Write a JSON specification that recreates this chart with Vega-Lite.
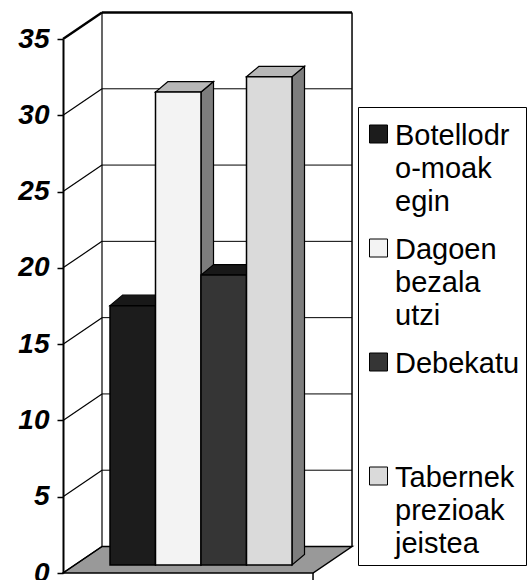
{
  "$schema": "https://vega.github.io/schema/vega-lite/v6.json",
  "width": 290,
  "height": 566,
  "autosize": "none",
  "padding": {"left": 63, "top": 12, "right": 177, "bottom": 2},
  "background": "white",
  "config": {
    "view": {"stroke": null},
    "axisY": {
      "labelFont": "Liberation Sans",
      "labelFontSize": 28,
      "labelFontWeight": "bold",
      "labelFontStyle": "italic",
      "labelColor": "black",
      "labelPadding": 8,
      "tickSize": 6,
      "tickColor": "black",
      "tickWidth": 1.5,
      "domainColor": "black",
      "domainWidth": 2,
      "grid": false
    }
  },
  "datasets": {
    "bars": [
      {"cat": "Botellodro-moak egin", "v": 17},
      {"cat": "Dagoen bezala utzi", "v": 31},
      {"cat": "Debekatu", "v": 19},
      {"cat": "Tabernek prezioak jeistea", "v": 32}
    ],
    "ticks": [{"t": 0}, {"t": 5}, {"t": 10}, {"t": 15}, {"t": 20}, {"t": 25}, {"t": 30}, {"t": 35}],
    "depth": [{"d": 0}, {"d": 1}],
    "one": [{"o": 0}]
  },
  "layer": [
    {
      "data": {"name": "depth"},
      "transform": [
        {"calculate": "datum.d * 1.737", "as": "fy"},
        {"calculate": "-1.033 + datum.d * 0.857", "as": "fx"},
        {"calculate": "4.462 + datum.d * 0.857", "as": "fx2"}
      ],
      "mark": {"type": "area", "orient": "horizontal", "fill": "#999999", "stroke": "black", "strokeWidth": 1.5},
      "encoding": {
        "y": {"field": "fy", "type": "quantitative", "title": null, "axis": {"values": [0, 5, 10, 15, 20, 25, 30, 35], "title": null}, "scale": {"domain": [0, 35], "range": [561, 27], "nice": false, "zero": false}},
        "x": {"field": "fx", "type": "quantitative", "axis": null, "stack": null, "scale": {"domain": [0, 4], "range": [47, 229], "nice": false, "zero": false}},
        "x2": {"field": "fx2"}
      }
    },
    {
      "data": {"name": "ticks"},
      "transform": [{"filter": "datum.t > 0"}],
      "mark": {"type": "rule", "color": "black", "xOffset": 39, "x2Offset": 39, "yOffset": -26.5},
      "encoding": {
        "y": {"field": "t", "type": "quantitative", "title": null, "axis": {"values": [0, 5, 10, 15, 20, 25, 30, 35], "title": null}},
        "x": {"datum": -1.033, "type": "quantitative", "axis": null},
        "x2": {"datum": 4.462},
        "strokeWidth": {"condition": {"test": "datum.t == 35", "value": 2.5}, "value": 1}
      }
    },
    {
      "data": {"name": "ticks"},
      "mark": {"type": "rule", "color": "black", "x2Offset": 39, "y2Offset": -26.5},
      "encoding": {
        "y": {"field": "t", "type": "quantitative", "title": null, "axis": {"values": [0, 5, 10, 15, 20, 25, 30, 35], "title": null}},
        "y2": {"field": "t"},
        "x": {"datum": -1.033, "type": "quantitative", "axis": null},
        "x2": {"datum": -1.033},
        "strokeWidth": {"condition": {"test": "datum.t == 35", "value": 2.5}, "value": 1.2}
      }
    },
    {
      "data": {"name": "one"},
      "mark": {"type": "rule", "color": "black", "strokeWidth": 1.2, "xOffset": 39, "yOffset": -26.5, "y2Offset": -26.5},
      "encoding": {
        "x": {"datum": -1.033, "type": "quantitative", "axis": null},
        "y": {"datum": 0, "type": "quantitative", "title": null, "axis": {"values": [0, 5, 10, 15, 20, 25, 30, 35], "title": null}},
        "y2": {"datum": 35}
      }
    },
    {
      "data": {"name": "one"},
      "mark": {"type": "rule", "color": "black", "strokeWidth": 1.5, "xOffset": 39, "yOffset": -26.5, "y2Offset": -26.5},
      "encoding": {
        "x": {"datum": 4.462, "type": "quantitative", "axis": null},
        "y": {"datum": 0, "type": "quantitative", "title": null, "axis": {"values": [0, 5, 10, 15, 20, 25, 30, 35], "title": null}},
        "y2": {"datum": 35}
      }
    },
    {
      "data": {"name": "one"},
      "mark": {"type": "rule", "color": "black", "strokeWidth": 1.5, "y2Offset": 7},
      "encoding": {
        "x": {"datum": 4.462, "type": "quantitative", "axis": null},
        "y": {"datum": 0, "type": "quantitative", "title": null, "axis": {"values": [0, 5, 10, 15, 20, 25, 30, 35], "title": null}},
        "y2": {"datum": 0}
      }
    },
    {
      "data": {"name": "bars"},
      "transform": [
        {"window": [{"op": "row_number", "as": "rn"}]},
        {"calculate": "[0, 1]", "as": "d"},
        {"flatten": ["d"]},
        {"calculate": "datum.rn + datum.d * 0.275", "as": "sx"},
        {"calculate": "datum.d * 0.688", "as": "sy"},
        {"calculate": "datum.v + datum.d * 0.688", "as": "sy2"}
      ],
      "mark": {"type": "area", "orient": "vertical", "fill": "#7d7d7d", "stroke": "black", "strokeWidth": 1.2, "yOffset": -8, "y2Offset": -8},
      "encoding": {
        "x": {"field": "sx", "type": "quantitative", "axis": null},
        "y": {"field": "sy2", "type": "quantitative", "stack": null, "title": null, "axis": {"values": [0, 5, 10, 15, 20, 25, 30, 35], "title": null}},
        "y2": {"field": "sy"},
        "detail": {"field": "cat", "type": "nominal"}
      }
    },
    {
      "data": {"name": "bars"},
      "transform": [
        {"window": [{"op": "row_number", "as": "rn"}]},
        {"calculate": "[0, 1]", "as": "d"},
        {"flatten": ["d"]},
        {"calculate": "datum.rn - 1 + datum.d * 0.275", "as": "tx"},
        {"calculate": "datum.rn + datum.d * 0.275", "as": "tx2"},
        {"calculate": "datum.v + datum.d * 0.688", "as": "ty"}
      ],
      "mark": {"type": "area", "orient": "horizontal", "stroke": "black", "strokeWidth": 1.2, "yOffset": -8},
      "encoding": {
        "y": {"field": "ty", "type": "quantitative", "title": null, "axis": {"values": [0, 5, 10, 15, 20, 25, 30, 35], "title": null}},
        "x": {"field": "tx", "type": "quantitative", "stack": null, "axis": null},
        "x2": {"field": "tx2"},
        "detail": {"field": "cat", "type": "nominal"},
        "fill": {"condition": {"test": "datum.cat == 'Dagoen bezala utzi' || datum.cat == 'Tabernek prezioak jeistea'", "value": "#b7b7b7"}, "value": "#181818"}
      }
    },
    {
      "data": {"name": "bars"},
      "transform": [
        {"window": [{"op": "row_number", "as": "rn"}]},
        {"calculate": "datum.rn - 1", "as": "i0"}
      ],
      "mark": {"type": "rect", "stroke": "black", "strokeWidth": 1.5, "yOffset": -8, "y2Offset": -8},
      "encoding": {
        "x": {"field": "i0", "type": "quantitative", "axis": null},
        "x2": {"field": "rn"},
        "y": {"field": "v", "type": "quantitative", "title": null, "axis": {"values": [0, 5, 10, 15, 20, 25, 30, 35], "title": null}},
        "y2": {"datum": 0},
        "color": {
          "field": "cat", "type": "nominal",
          "scale": {"domain": ["Botellodro-moak egin", "Dagoen bezala utzi", "Debekatu", "Tabernek prezioak jeistea"], "range": ["#1c1c1c", "#f3f3f3", "#353535", "#dadada"]},
          "legend": {
            "orient": "none", "legendX": 295, "legendY": 95,
            "title": null,
            "symbolType": "square", "symbolSize": 324,
            "symbolStrokeColor": "black", "symbolStrokeWidth": 1,
            "labelFont": "Liberation Sans", "labelFontSize": 29, "labelColor": "black",
            "labelOffset": 2, "labelLimit": 0, "labelBaseline": "top",
            "padding": 6, "rowPadding": 10,
            "strokeColor": "black", "fillColor": "white",
            "labelExpr": "datum.label == 'Botellodro-moak egin' ? ['Botellodr', 'o-moak', 'egin'] : datum.label == 'Dagoen bezala utzi' ? ['Dagoen', 'bezala', 'utzi'] : datum.label == 'Debekatu' ? ['Debekatu\u00a0\u00a0\u00a0', '', ''] : ['Tabernek', 'prezioak', 'jeistea']",
            "encode": {
              "labels": {"update": {"lineHeight": {"value": 33}, "dy": {"value": -6}}},
              "symbols": {"update": {"y": {"value": 21}}}
            }
          }
        }
      }
    }
  ]
}
